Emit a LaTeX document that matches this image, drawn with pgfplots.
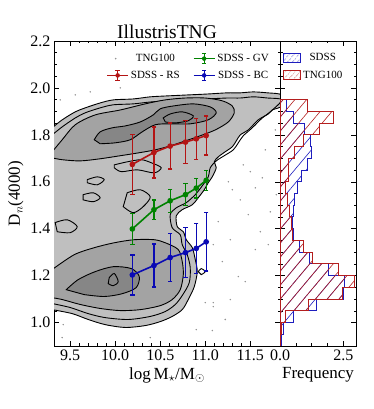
\documentclass[border=0pt]{standalone}
\usepackage{fontspec}
\setmainfont{Liberation Serif}
\usepackage{pgfplots}
\pgfplotsset{compat=1.18}
\usetikzlibrary{patterns.meta}

\definecolor{rsred}{RGB}{180,20,20}
\definecolor{gvgreen}{RGB}{0,130,0}
\definecolor{bcblue}{RGB}{10,10,180}
\definecolor{hred}{RGB}{180,30,30}
\definecolor{hblue}{RGB}{30,30,190}

\pgfplotsset{
  panel/.style={scale only axis, height=305pt, ymin=0.9, ymax=2.2,
    ytick={1.0,1.2,1.4,1.6,1.8,2.0,2.2}, minor y tick num=3,
    tick align=inside, major tick length=5pt, minor tick length=2.5pt,
    every tick/.style={black, line width=0.5pt},
    axis line style={line width=0.6pt},
    tick label style={font=\fontsize{16}{18}\selectfont},
    label style={font=\fontsize{17}{20}\selectfont},
    /pgf/number format/assume math mode=true,
    yticklabel style={/pgf/number format/.cd, fixed, fixed zerofill, precision=1},
  },
  cline/.style={black, line width=0.9pt, smooth, tension=0.5},
  errleg/.style={legend image code/.code={
      \draw[color=#1, line width=1.6pt] (0pt,0pt) -- (21pt,0pt);
      \draw[color=#1, line width=1.3pt] (10.5pt,-5pt) -- (10.5pt,5pt) (8.3pt,-5pt) -- (12.7pt,-5pt) (8.3pt,5pt) -- (12.7pt,5pt);
      \fill[color=#1] (10.5pt,0pt) circle (2pt);}},
  hatchleg/.style={legend image code/.code={\draw[##1] (0pt,-4.5pt) rectangle (17pt,4.5pt);}},
  % vertical scatter bars (16th-84th percentile ranges), with caps
  vbar/.style={color=#1, line width=1.3pt, unbounded coords=jump, mark=-, mark size=2.2pt,
    mark options={line width=1.3pt, color=#1}},
  med/.style={color=#1, line width=1.6pt, mark=*, mark size=2pt, mark options={fill=#1, draw=#1}},
}

\begin{document}
\begin{tikzpicture}
\path[use as bounding box] (0pt,0pt) rectangle (374pt,409pt);

% ---------------- main panel ----------------
\begin{axis}[panel,
  at={(54pt,63pt)}, anchor=south west, width=226pt,
  xmin=9.32, xmax=11.83,
  xtick={9.5,10,10.5,11,11.5}, minor x tick num=4,
  xticklabel style={/pgf/number format/.cd, fixed, fixed zerofill, precision=1},
  xlabel={log\,M$_\star$/M$_\odot$},
  ylabel={D$_n$(4000)},
  title={IllustrisTNG},
  title style={font=\fontsize{19.5}{22}\selectfont, yshift=-7pt},
  legend columns=2,
  legend style={at={(1,1)}, anchor=north east, xshift=-6pt, yshift=-9pt,
    draw=none, fill=none, font=\fontsize{11}{13}\selectfont, row sep=4pt,
    /tikz/every even column/.append style={column sep=11pt}},
]
% outer contour (low density envelope)
\addplot[cline, fill=gray!50, forget plot] coordinates {
(9.30,1.830) (9.411,1.864) (9.556,1.898) (9.667,1.915) (9.833,1.936) (9.978,1.949)
(10.20,1.953) (10.389,1.962) (10.578,1.966) (10.80,1.970) (11.022,1.974) (11.244,1.979)
(11.389,1.979) (11.533,1.983) (11.689,1.979) (11.85,1.970) (11.85,1.923) (11.744,1.906)
(11.70,1.889) (11.589,1.864) (11.478,1.821) (11.389,1.800) (11.344,1.774) (11.30,1.749)
(11.222,1.728) (11.144,1.706) (11.10,1.685) (11.122,1.660) (11.078,1.621) (11.033,1.596)
(10.989,1.566) (10.922,1.532) (10.856,1.502) (10.744,1.481) (10.678,1.455) (10.689,1.409)
(10.756,1.387) (10.789,1.353) (10.856,1.319) (10.889,1.268) (10.911,1.217) (10.878,1.153)
(10.811,1.098) (10.744,1.055) (10.633,1.026) (10.50,1.004) (10.333,0.987) (10.111,0.979)
(9.889,0.991) (9.70,1.013) (9.522,1.038) (9.30,1.055)} -- cycle;
% second low-density contour
\addplot[cline, forget plot] coordinates {
(9.30,1.800) (9.411,1.834) (9.556,1.872) (9.667,1.894) (9.833,1.915) (9.978,1.928)
(10.20,1.932) (10.389,1.940) (10.578,1.945) (10.80,1.949) (11.022,1.953) (11.244,1.957)
(11.389,1.957) (11.533,1.962) (11.689,1.957) (11.85,1.949) (11.722,1.898) (11.633,1.872)
(11.522,1.830) (11.422,1.796) (11.367,1.766) (11.311,1.736) (11.211,1.711) (11.122,1.689)
(11.056,1.660) (11.033,1.621) (10.967,1.583) (10.889,1.545) (10.789,1.511) (10.678,1.489)
(10.611,1.460) (10.633,1.404) (10.722,1.374) (10.744,1.332) (10.80,1.289) (10.833,1.234)
(10.822,1.170) (10.744,1.115) (10.667,1.077) (10.556,1.047) (10.389,1.026) (10.144,1.013)
(9.889,1.021) (9.70,1.038) (9.50,1.064) (9.30,1.081)};
% red sequence, medium density
\addplot[cline, fill=gray!72, forget plot] coordinates {
(9.30,1.728) (9.411,1.779) (9.556,1.843) (9.778,1.885) (10.056,1.906) (10.333,1.932)
(10.556,1.949) (10.778,1.957) (11.00,1.957) (11.189,1.945) (11.30,1.923) (11.322,1.894)
(11.256,1.855) (11.111,1.821) (10.944,1.796) (10.778,1.774) (10.611,1.753) (10.444,1.736)
(10.256,1.723) (10.056,1.711) (9.833,1.698) (9.611,1.689) (9.411,1.694) (9.30,1.702)} -- cycle;
% blue cloud, medium density
\addplot[cline, fill=gray!72, forget plot] coordinates {
(9.30,1.226) (9.544,1.289) (9.767,1.319) (9.989,1.340) (10.211,1.353) (10.433,1.353)
(10.556,1.340) (10.70,1.311) (10.744,1.260) (10.756,1.204) (10.722,1.140) (10.633,1.098)
(10.50,1.072) (10.278,1.055) (10.056,1.051) (9.833,1.060) (9.611,1.077) (9.411,1.098)
(9.30,1.106)} -- cycle;
% dense cores
\addplot[cline, fill=gray!95, forget plot] coordinates {
(9.767,1.779) (9.833,1.813) (9.967,1.830) (10.111,1.838) (10.278,1.855) (10.422,1.885)
(10.50,1.911) (10.644,1.923) (10.867,1.932) (11.056,1.919) (11.122,1.894) (11.033,1.864)
(10.833,1.847) (10.611,1.847) (10.444,1.843) (10.30,1.813) (10.167,1.779) (10.00,1.766)
(9.833,1.762)} -- cycle;
\addplot[cline, fill=gray!95, forget plot] coordinates {
(9.456,1.140) (9.589,1.183) (9.778,1.217) (9.978,1.238) (10.178,1.230) (10.267,1.196)
(10.233,1.149) (10.078,1.123) (9.878,1.111) (9.656,1.119)} -- cycle;
\addplot[cline, forget plot] coordinates {
(10.533,1.872) (10.611,1.889) (10.744,1.898) (10.867,1.881) (10.811,1.860) (10.667,1.851)
(10.556,1.855)} -- cycle;
\addplot[cline, forget plot] coordinates {
(9.933,1.191) (9.989,1.209) (10.033,1.174) (9.978,1.157) (9.922,1.166)} -- cycle;
% small contour islands between the two populations
\addplot[cline, forget plot] coordinates {
(9.989,1.672) (10.133,1.685) (10.289,1.694) (10.40,1.681) (10.511,1.660) (10.433,1.638)
(10.244,1.651) (10.067,1.643) (9.989,1.660)} -- cycle;
\addplot[cline, forget plot] coordinates {
(9.689,1.609) (9.80,1.621) (9.878,1.609) (9.80,1.587) (9.689,1.596)} -- cycle;
\addplot[cline, forget plot] coordinates {
(9.644,1.545) (9.756,1.553) (9.833,1.532) (9.756,1.515) (9.644,1.523)} -- cycle;
\addplot[cline, forget plot] coordinates {
(10.133,1.553) (10.278,1.566) (10.389,1.536) (10.311,1.494) (10.20,1.468) (10.089,1.494)} -- cycle;
\addplot[cline, forget plot] coordinates {
(9.333,1.426) (9.467,1.438) (9.578,1.409) (9.50,1.383) (9.356,1.387)} -- cycle;
\addplot[cline, forget plot] coordinates {
(10.922,1.217) (10.956,1.230) (11.00,1.217) (10.956,1.204)} -- cycle;
% isolated TNG100 galaxies
\addplot[only marks, mark=*, mark size=0.5pt, gray!85, forget plot] coordinates {
(11.422,1.672) (11.50,1.643) (11.633,1.617) (11.30,1.566) (11.389,1.523) (11.556,1.574)
(11.722,1.472) (11.144,1.430) (11.278,1.353) (11.189,1.260) (11.611,1.387) (11.556,1.311)
(11.089,1.332) (11.278,1.098) (11.00,1.085) (11.089,1.068) (11.089,1.085) (11.078,0.966)
(11.444,1.174) (11.256,1.600) (11.667,1.736) (11.778,1.821) (11.367,1.196) (10.90,0.970)
(10.389,0.936) (9.411,0.936) (9.422,0.991) (9.389,1.949) (9.556,1.970) (9.722,1.983)
(10.056,2.000) (11.478,1.460) (11.70,1.332) (11.789,1.545) (11.222,1.013)};
% SDSS scatter ranges (bottom, top) per mass bin
\addplot[forget plot, vbar=rsred] coordinates {
(10.19,1.546) (10.19,1.802) (10.19,nan) (10.43,1.616) (10.43,1.834) (10.43,nan)
(10.61,1.654) (10.61,1.850) (10.61,nan) (10.78,1.677) (10.78,1.861) (10.78,nan)
(10.90,1.696) (10.90,1.870) (10.90,nan) (11.01,1.714) (11.01,1.880)};
\addplot[forget plot, vbar=gvgreen] coordinates {
(10.19,1.333) (10.19,1.465) (10.19,nan) (10.43,1.440) (10.43,1.522) (10.43,nan)
(10.61,1.470) (10.61,1.568) (10.61,nan) (10.78,1.498) (10.78,1.592) (10.78,nan)
(10.90,1.531) (10.90,1.615) (10.90,nan) (11.01,1.563) (11.01,1.649)};
\addplot[forget plot, vbar=bcblue] coordinates {
(10.19,1.118) (10.19,1.288) (10.19,nan) (10.43,1.151) (10.43,1.335) (10.43,nan)
(10.61,1.174) (10.61,1.380) (10.61,nan) (10.78,1.192) (10.78,1.404) (10.78,nan)
(10.90,1.210) (10.90,1.422) (10.90,nan) (11.01,1.220) (11.01,1.468)};
% SDSS medians
\addplot[forget plot, med=rsred] coordinates {
(10.19,1.674) (10.43,1.725) (10.61,1.752) (10.78,1.769) (10.90,1.783) (11.01,1.797)};
\addplot[forget plot, med=gvgreen] coordinates {
(10.19,1.399) (10.43,1.481) (10.61,1.519) (10.78,1.545) (10.90,1.573) (11.01,1.606)};
\addplot[forget plot, med=bcblue] coordinates {
(10.19,1.203) (10.43,1.243) (10.61,1.277) (10.78,1.298) (10.90,1.316) (11.01,1.344)};
\addlegendimage{only marks, mark=*, mark size=0.6pt, gray!85}
\addlegendentry{TNG100}
\addlegendimage{errleg=gvgreen}
\addlegendentry{SDSS - GV}
\addlegendimage{errleg=rsred}
\addlegendentry{SDSS - RS}
\addlegendimage{errleg=bcblue}
\addlegendentry{SDSS - BC}
\end{axis}

% ---------------- histogram panel ----------------
\begin{axis}[panel,
  at={(280pt,63pt)}, anchor=south west, width=76pt,
  xmin=0, xmax=3.0, xtick={0,2.5}, xticklabels={0.0,2.5}, minor x tick num=3,
  yticklabels={},
  xlabel={Frequency},
  legend style={at={(0,1)}, anchor=north west, xshift=0pt, yshift=-8pt,
    draw=none, fill=none, font=\fontsize{11}{13}\selectfont, row sep=5pt},
]
\addplot[draw=hblue, line width=1pt,
  pattern={Lines[angle=50,distance=9pt,line width=0.6pt]}, pattern color=hblue, forget plot]
coordinates {
(0,0.90) (0.07,0.90) (0.07,0.95) (0.15,0.95) (0.15,1.00) (0.53,1.00) (0.53,1.05)
(1.43,1.05) (1.43,1.10) (2.52,1.10) (2.52,1.15) (2.56,1.15) (2.56,1.20) (1.92,1.20)
(1.92,1.25) (1.18,1.25) (1.18,1.30) (0.75,1.30) (0.75,1.35) (0.55,1.35) (0.55,1.40)
(0.49,1.40) (0.49,1.45) (0.54,1.45) (0.54,1.50) (0.59,1.50) (0.59,1.55) (0.69,1.55)
(0.69,1.60) (0.83,1.60) (0.83,1.65) (1.07,1.65) (1.07,1.70) (1.24,1.70) (1.24,1.75)
(1.20,1.75) (1.20,1.80) (0.95,1.80) (0.95,1.85) (0.53,1.85) (0.53,1.90) (0.24,1.90)
(0.24,1.95) (0,1.95)} -- cycle;
\addplot[draw=hred, line width=1pt,
  pattern={Lines[angle=50,distance=9pt,line width=0.6pt]}, pattern color=hred, forget plot]
coordinates {
(0,0.90) (0.02,0.90) (0.02,0.95) (0.05,0.95) (0.05,1.00) (0.21,1.00) (0.21,1.05)
(1.13,1.05) (1.13,1.10) (2.48,1.10) (2.48,1.15) (2.93,1.15) (2.93,1.20) (2.30,1.20)
(2.30,1.25) (1.29,1.25) (1.29,1.30) (0.92,1.30) (0.92,1.35) (0.48,1.35) (0.48,1.40)
(0.44,1.40) (0.44,1.45) (0.37,1.45) (0.37,1.50) (0.29,1.50) (0.29,1.55) (0.22,1.55)
(0.22,1.60) (0.32,1.60) (0.32,1.65) (0.35,1.65) (0.35,1.70) (0.58,1.70) (0.58,1.75)
(0.94,1.75) (0.94,1.80) (1.56,1.80) (1.56,1.85) (2.13,1.85) (2.13,1.90) (1.10,1.90)
(1.10,1.95) (0,1.95)} -- cycle;
\addlegendimage{hatchleg, draw=hblue, line width=1pt,
  pattern={Lines[angle=50,distance=4pt,line width=0.5pt]}, pattern color=hblue}
\addlegendentry{SDSS}
\addlegendimage{hatchleg, draw=hred, line width=1pt,
  pattern={Lines[angle=50,distance=4pt,line width=0.5pt]}, pattern color=hred}
\addlegendentry{TNG100}
\end{axis}
\end{tikzpicture}
\end{document}
